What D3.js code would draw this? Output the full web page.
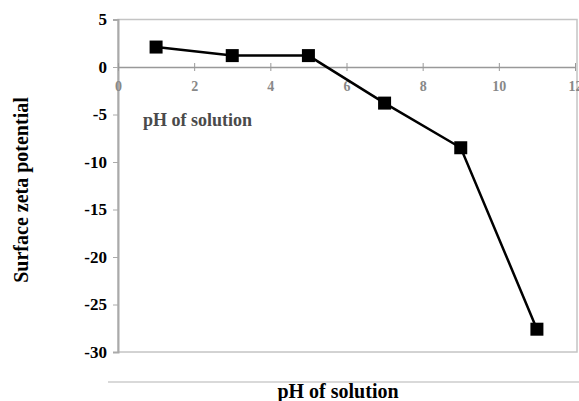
<!DOCTYPE html>
<html lang="en">
<head>
<meta charset="UTF-8">
<title>Surface zeta potential vs pH</title>
<script src="https://d3js.org/d3.v7.min.js"></script>
<style>
  body { margin: 0; background: #fff; }
  text { font-family: "Liberation Serif", "Times New Roman", serif; font-weight: bold; }
</style>
</head>
<body>
<script>
  const phValues = [1, 3, 5, 7, 9, 11];
  const zetaValues = [2.1, 1.2, 1.2, -3.8, -8.5, -27.6];
  const xTicks = [0, 2, 4, 6, 8, 10, 12];
  const yTicks = [5, 0, -5, -10, -15, -20, -25, -30];

  const w = 579;
  const h = 401;
  const plotLeft = 118, plotRight = 575, plotTop = 19.5, plotBottom = 352;

  const xScale = d3.scaleLinear().domain([0, 12]).range([plotLeft, plotRight]);
  const yScale = d3.scaleLinear().domain([-30, 5]).range([plotBottom, plotTop]);

  const svg = d3.select("body").append("svg")
    .attr("width", w)
    .attr("height", h);

  // plot frame
  svg.append("rect")
    .attr("x", plotLeft).attr("y", plotTop)
    .attr("width", plotRight + 2 - plotLeft).attr("height", plotBottom - plotTop)
    .attr("fill", "none")
    .attr("stroke", "#c4c4c4")
    .attr("stroke-width", 1.5);

  // y axis, plain hyphen for negatives like the original
  const yAxis = d3.axisLeft(yScale).tickValues(yTicks).tickSize(5).tickFormat(d => String(d));
  const gy = svg.append("g")
    .attr("transform", `translate(${plotLeft},0)`)
    .call(yAxis);
  gy.select(".domain").attr("stroke", "#aaa").attr("stroke-width", 2);
  gy.selectAll(".tick line").attr("stroke", "#aaa");
  gy.selectAll(".tick text")
    .attr("x", -11)
    .attr("fill", "#000")
    .style("font-size", "17px");

  // x axis through zero
  const xAxis = d3.axisBottom(xScale).tickValues(xTicks).tickSizeInner(0).tickSizeOuter(0);
  const gx = svg.append("g")
    .attr("transform", `translate(0,${yScale(0)})`)
    .call(xAxis);
  gx.select(".domain").attr("stroke", "#999").attr("stroke-width", 1.5);
  gx.selectAll(".tick").append("line")
    .attr("y1", -4).attr("y2", 4)
    .attr("stroke", "#999");
  gx.selectAll(".tick text")
    .attr("y", 14)
    .attr("fill", "#888")
    .style("font-size", "14px");

  // inner label
  svg.append("text")
    .attr("x", 143).attr("y", 126)
    .attr("fill", "#4a4a4a")
    .style("font-size", "18px")
    .text("pH  of solution");

  // line and markers
  const pts = phValues.map((p, i) => [p, zetaValues[i]]);
  svg.append("path")
    .datum(pts)
    .attr("fill", "none")
    .attr("stroke", "#000")
    .attr("stroke-width", 2.5)
    .attr("d", d3.line().x(d => xScale(d[0])).y(d => yScale(d[1])));

  const sz = 13;
  svg.selectAll("rect.pt")
    .data(pts)
    .enter()
    .append("rect")
    .attr("class", "pt")
    .attr("x", d => xScale(d[0]) - sz / 2)
    .attr("y", d => yScale(d[1]) - sz / 2)
    .attr("width", sz)
    .attr("height", sz)
    .attr("fill", "#000");

  // separator line and bottom title
  svg.append("line")
    .attr("x1", 108).attr("x2", 579)
    .attr("y1", 382).attr("y2", 382)
    .attr("stroke", "#ccc")
    .attr("stroke-width", 1.5);

  svg.append("text")
    .attr("x", 338).attr("y", 398)
    .attr("text-anchor", "middle")
    .style("font-size", "20px")
    .text("pH of solution");

  svg.append("text")
    .attr("transform", `translate(28,190) rotate(-90)`)
    .attr("text-anchor", "middle")
    .style("font-size", "20px")
    .text("Surface zeta potential");
</script>
</body>
</html>
